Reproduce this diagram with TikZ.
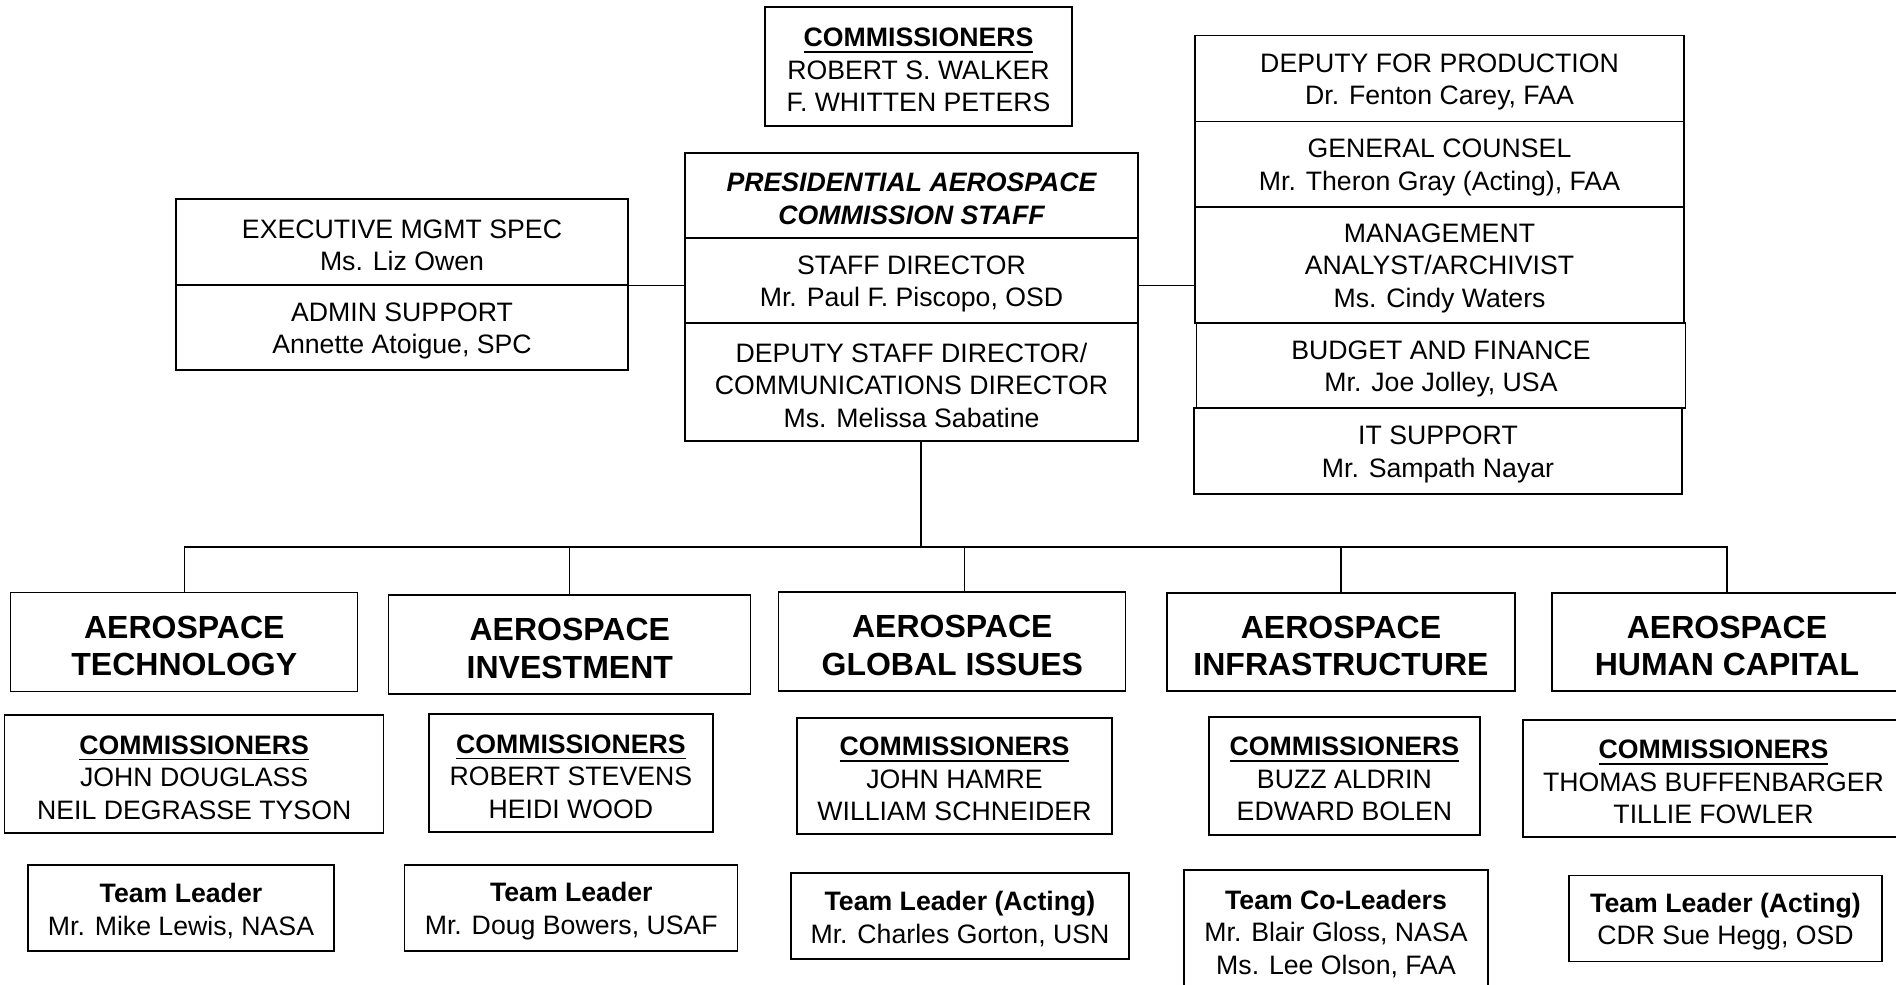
\documentclass[tikz,border=0pt]{standalone}
\usepackage{fontspec}
\setmainfont{Liberation Sans}
\newsavebox{\ulhbox}
\newcommand{\cmhead}{\textbf{\sbox{\ulhbox}{COMMISSIONERS}\rlap{\rule[-4.8pt]{\wd\ulhbox}{1.4pt}}\usebox{\ulhbox}}}
\newcommand{\topstrut}{\rule{0pt}{0.95em}}

\tikzset{every picture/.style={line width=1pt}}
\tikzset{
  orgbox/.style={draw, rectangle, align=center, inner sep=2pt, font=\fontsize{20}{24.4}\selectfont},
  divbox/.style={orgbox, font=\fontsize{24}{28}\selectfont\bfseries},
  sz/.style 2 args={minimum width=#1*0.75pt, minimum height=#2*0.75pt}
}

\begin{document}
\begin{tikzpicture}[x=0.75pt,y=0.75pt,yscale=-1,xscale=1]
	\useasboundingbox (0,0) rectangle (1896,985);

	%Shape: Rectangle [commissioners]
	\node[orgbox, sz={307}{119}] (chair) at (918.5,66.5) {\topstrut\cmhead\\ROBERT S. WALKER\\F. WHITTEN PETERS};

	%Shape: Rectangle [staff stack]
	\node[orgbox, sz={453}{85}, font=\fontsize{20}{24.4}\selectfont\bfseries\itshape] (pacs) at (911.5,195.5) {\topstrut PRESIDENTIAL AEROSPACE\\COMMISSION STAFF};
	\node[orgbox, sz={453}{85}] (stfdir) at (911.5,280.5) {\topstrut STAFF DIRECTOR\\Mr. Paul F. Piscopo, OSD};
	\node[orgbox, sz={453}{118}] (depdir) at (911.5,382) {\topstrut DEPUTY STAFF DIRECTOR/\\COMMUNICATIONS DIRECTOR\\Ms. Melissa Sabatine};

	%Shape: Rectangle [left stack]
	\node[orgbox, sz={452}{86}] (execm) at (402,242) {\topstrut EXECUTIVE MGMT SPEC\\Ms. Liz Owen};
	\node[orgbox, sz={452}{85}] (admin) at (402,327.5) {\topstrut ADMIN SUPPORT\\Annette Atoigue, SPC};

	%Shape: Rectangle [right stack]
	\node[orgbox, sz={489}{86}] (prod) at (1439.5,78.5) {\topstrut DEPUTY FOR PRODUCTION\\Dr. Fenton Carey, FAA};
	\node[orgbox, sz={489}{85}] (gcoun) at (1439.5,164) {\topstrut GENERAL COUNSEL\\Mr. Theron Gray (Acting), FAA};
	\node[orgbox, sz={489}{116}] (mgmt) at (1439.5,265) {\topstrut MANAGEMENT\\ANALYST/ARCHIVIST\\Ms. Cindy Waters};
	\node[orgbox, sz={489}{85}] (budget) at (1441,365.5) {\topstrut BUDGET AND FINANCE\\Mr. Joe Jolley, USA};
	\node[orgbox, sz={488}{86}] (itsup) at (1438,451) {\topstrut IT SUPPORT\\Mr. Sampath Nayar};

	%Shape: Rectangle [divisions]
	\node[divbox, sz={347}{99}] (tech) at (184.3,642.2) {\topstrut AEROSPACE\\TECHNOLOGY};
	\node[divbox, sz={362}{99}] (invest) at (569.8,644.4) {\topstrut AEROSPACE\\INVESTMENT};
	\node[divbox, sz={347}{99}] (global) at (952.3,641.4) {\topstrut AEROSPACE\\GLOBAL ISSUES};
	\node[divbox, sz={348}{98}] (infra) at (1341,641.9) {\topstrut AEROSPACE\\INFRASTRUCTURE};
	\node[divbox, sz={350}{98}] (humcap) at (1727,641.9) {\topstrut AEROSPACE\\HUMAN CAPITAL};

	%Shape: Rectangle [division commissioners]
	\node[orgbox, sz={379}{118}] (tcom) at (194.2,774) {\topstrut\cmhead\\JOHN DOUGLASS\\NEIL DEGRASSE TYSON};
	\node[orgbox, sz={284}{118}] (icom) at (570.9,773) {\topstrut\cmhead\\ROBERT STEVENS\\HEIDI WOOD};
	\node[orgbox, sz={315}{116}] (gcom) at (954.5,775.9) {\topstrut\cmhead\\JOHN HAMRE\\WILLIAM SCHNEIDER};
	\node[orgbox, sz={271}{118}] (fcom) at (1344.4,775.9) {\topstrut\cmhead\\BUZZ ALDRIN\\EDWARD BOLEN};
	\node[orgbox, sz={381}{117}] (hcom) at (1713.5,778.6) {\topstrut\cmhead\\THOMAS BUFFENBARGER\\TILLIE FOWLER};

	%Shape: Rectangle [team leaders]
	\node[orgbox, sz={306}{86}] (tlead) at (181,908) {\topstrut\textbf{Team Leader}\\Mr. Mike Lewis, NASA};
	\node[orgbox, sz={333}{86}] (ilead) at (571.3,908) {\topstrut\textbf{Team Leader}\\Mr. Doug Bowers, USAF};
	\node[orgbox, sz={338}{86}] (glead) at (960,916) {\topstrut\textbf{Team Leader (Acting)}\\Mr. Charles Gorton, USN};
	\node[orgbox, sz={304}{122}] (flead) at (1336,931) {\topstrut\textbf{Team Co-Leaders}\\Mr. Blair Gloss, NASA\\Ms. Lee Olson, FAA};
	\node[orgbox, sz={313}{86}] (hlead) at (1725.5,918.7) {\topstrut\textbf{Team Leader (Acting)}\\CDR Sue Hegg, OSD};

	%Straight Lines
	\coordinate (hub) at (921,547);
	\draw (execm.south east) -- (execm.south east -| stfdir.west);
	\draw (execm.south east -| stfdir.east) -- (execm.south east -| mgmt.west);
	\draw (depdir.south -| hub) -- (hub);
	\draw (tech.north) -- (tech.north |- hub) -- (humcap.north |- hub) -- (humcap.north);
	\draw (invest.north) -- (invest.north |- hub);
	\draw ([xshift=9pt]global.north) -- ([xshift=9pt]global.north |- hub);
	\draw (infra.north) -- (infra.north |- hub);

\end{tikzpicture}
\end{document}
